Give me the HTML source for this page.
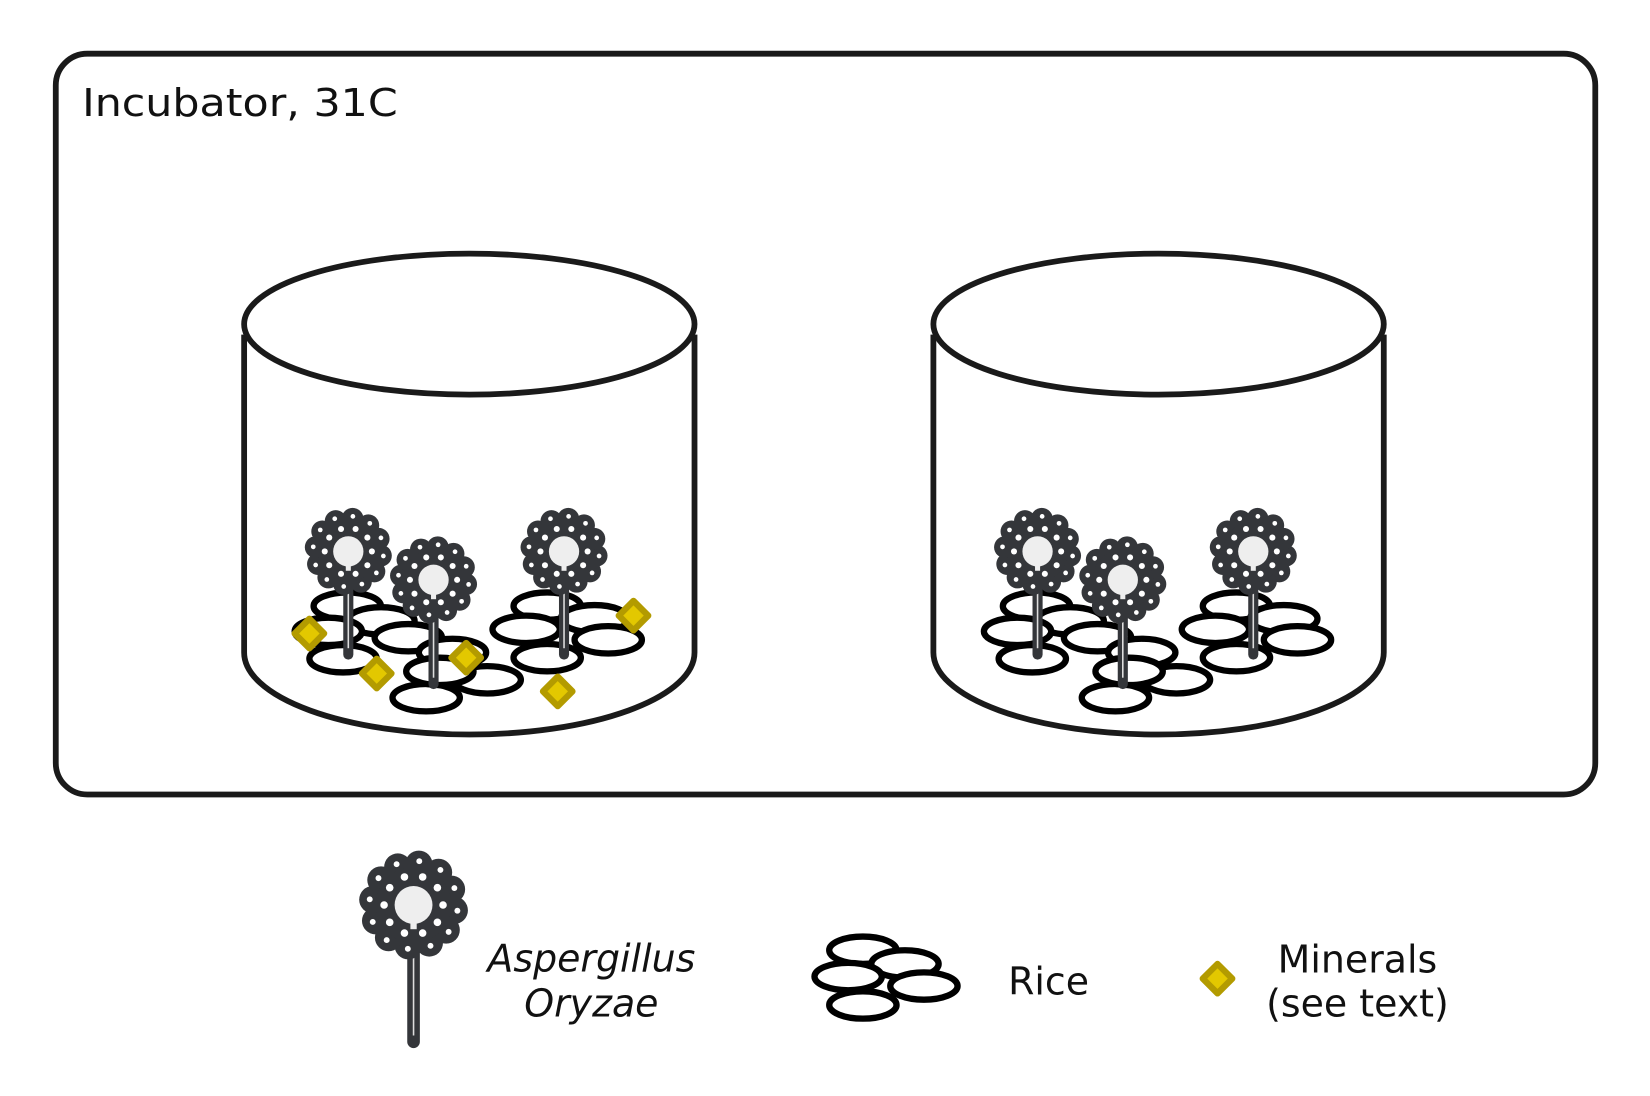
<!DOCTYPE html>
<html><head><meta charset="utf-8"><style>
html,body{margin:0;padding:0;background:#fff;width:1650px;height:1096px;overflow:hidden}
svg{display:block}
text{font-family:"DejaVu Sans","Liberation Sans",sans-serif;font-size:36px;fill:#111}
</style></head><body>
<svg id="s" width="1650" height="1096" viewBox="0 0 1568 1041.5" preserveAspectRatio="none" xmlns="http://www.w3.org/2000/svg">
<rect x="53" y="51" width="1463" height="704" rx="30" fill="none" stroke="#1a1a1a" stroke-width="5.5"/>
<text x="78" y="110" font-size="38" textLength="300" lengthAdjust="spacingAndGlyphs">Incubator, 31C</text>
<g id="cyls"></g>
<text x="562" y="923" text-anchor="middle" font-style="italic">Aspergillus</text>
<text x="562" y="966" text-anchor="middle" font-style="italic">Oryzae</text>
<text x="958" y="945">Rice</text>
<text x="1290" y="924" text-anchor="middle">Minerals</text>
<text x="1290" y="966" text-anchor="middle">(see text)</text>
</svg>
<script>
const NS='http://www.w3.org/2000/svg';
const svg=document.getElementById('s');
const g=document.getElementById('cyls');
function mk(tag,attrs,parent){const e=document.createElementNS(NS,tag);for(const k in attrs)e.setAttribute(k,attrs[k]);(parent||svg).appendChild(e);return e;}
const cylCenters=[446,1101];
const riceOffsets=[[-116,268],[-84,282],[-134,292],[-58,298],[-120,318],[-16,312],[17,338],[-41,355],[74,268],[54,290],[119,280],[132,300],[74,317],[-28,330]];
const flowerOffsets=[[-115,216,622],[-34,243,650],[90,216,622]];
const minerals=[[294,602],[358,640],[443,625],[530,657],[602,585]];
function flower(cx,cy,s,stemEnd,name){
  const grp=mk('g',{},g);
  
  
  mk('line',{x1:cx,y1:cy,x2:cx,y2:stemEnd,stroke:'#34363a','stroke-width':12*s,'stroke-linecap':'round'},grp);
  mk('line',{x1:cx,y1:cy+22*s,x2:cx,y2:stemEnd-6,stroke:'#ddd','stroke-width':1.5},grp);
  for(let i=0;i<12;i++){const a=i/12*Math.PI*2+0.13;mk('circle',{cx:cx+39*s*Math.cos(a),cy:cy+39*s*Math.sin(a),r:13*s,fill:'#34363a'},grp);}
  mk('circle',{cx:cx,cy:cy,r:36*s,fill:'#34363a'},grp);
  for(let i=0;i<12;i++){const a=i/12*Math.PI*2+0.13;mk('circle',{cx:cx+42*s*Math.cos(a),cy:cy+42*s*Math.sin(a),r:2.8*s,fill:'#fff'},grp);}
  for(let i=0;i<10;i++){const a=i/10*Math.PI*2;mk('circle',{cx:cx+28*s*Math.cos(a),cy:cy+28*s*Math.sin(a),r:3.6*s,fill:'#fff'},grp);}
  mk('circle',{cx:cx,cy:cy,r:18*s,fill:'#eee'},grp);
  mk('rect',{x:cx-3*s,y:cy+17*s,width:6*s,height:6*s,fill:'#eee'},grp);
}
function rice(x,y,name){const e=mk('ellipse',{cx:x,cy:y,rx:32,ry:13,fill:'#fff',stroke:'#000','stroke-width':6},g);
  
  }
function diamond(x,y,name){const d=14;const e=mk('polygon',{points:`${x},${y-d} ${x+d},${y} ${x},${y+d} ${x-d},${y}`,fill:'#e3c800',stroke:'#b39b00','stroke-width':6,'stroke-linejoin':'round'},g);
  
  }
cylCenters.forEach((c,ci)=>{
  const body=mk('path',{d:`M${c-214},318 L${c-214},620 A214,78 0 0 0 ${c+214},620 L${c+214},318`,fill:'#fff',stroke:'#1a1a1a','stroke-width':5.5},g);
  
  
  const top=mk('ellipse',{cx:c,cy:308,rx:214,ry:67,fill:'#fff',stroke:'#1a1a1a','stroke-width':5.5},g);
  
  
  riceOffsets.forEach((r,i)=>rice(c+r[0],308+r[1],'rice-grain'));
  flowerOffsets.forEach((f,i)=>flower(c+f[0],308+f[1],0.8,f[2],'aspergillus-'+(ci+1)+'-'+(i+1)));
});
minerals.forEach(m=>diamond(m[0],m[1],'mineral'));
flower(393,860,1.0,990,'legend-aspergillus-icon');
[[820,903],[860,916],[806,928],[878,937],[820,955]].forEach(r=>rice(r[0],r[1],'legend-rice-icon'));
diamond(1157,930,'legend-mineral-icon');
</script>
</body></html>
